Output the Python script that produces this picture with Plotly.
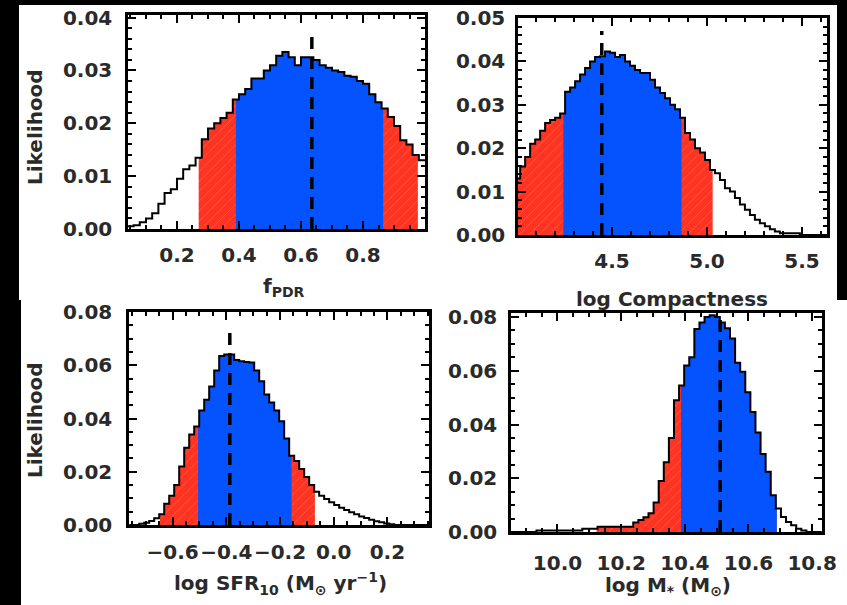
import plotly.graph_objects as go

W, H = 847, 605

# ---------------- data ----------------
# Panel 1: f_PDR
pdr_start, pdr_bin = 0.04, 0.02
pdr_like = [0.0005, 0.0007, 0.0013, 0.002, 0.003, 0.0048, 0.0068, 0.0075, 0.0095, 0.0113,
            0.012, 0.0135, 0.017, 0.019, 0.020, 0.021, 0.022, 0.0245, 0.0255, 0.0265,
            0.0285, 0.0285, 0.030, 0.031, 0.0328, 0.0335, 0.0325, 0.031, 0.0325, 0.0325,
            0.032, 0.031, 0.0305, 0.030, 0.0297, 0.029, 0.0288, 0.028, 0.0275, 0.0255,
            0.024, 0.0228, 0.0212, 0.0195, 0.0168, 0.016, 0.014, 0.013]
pdr_red = [0.27, 0.977]
pdr_blue = [0.39, 0.865]
pdr_median = 0.635
pdr_xticks = [0.2, 0.4, 0.6, 0.8]
pdr_yticks = [0.00, 0.01, 0.02, 0.03, 0.04]

# Panel 2: log Compactness
comp_start, comp_bin = 3.99, 0.0263
comp_like = [0.013, 0.0158, 0.018, 0.021, 0.022, 0.024, 0.0258, 0.0265, 0.027, 0.028,
             0.033, 0.034, 0.0354, 0.037, 0.0385, 0.040, 0.041, 0.0412, 0.0423, 0.042,
             0.041, 0.0415, 0.040, 0.039, 0.038, 0.0373, 0.0373, 0.0358, 0.034, 0.0327,
             0.0315, 0.030, 0.029, 0.027, 0.0235, 0.022, 0.020, 0.019, 0.0173, 0.015,
             0.0142, 0.0127, 0.0108, 0.010, 0.0085, 0.007, 0.0058, 0.0046, 0.0035, 0.0027,
             0.002, 0.0013, 0.0008, 0.0004, 0.0004, 0.0004, 0.0004, 0.0, 0.0, 0.0,
             0.0, 0.0, 0.0]
comp_red = [3.99, 5.03]
comp_blue = [4.244, 4.866]
comp_median = 4.446
comp_xticks = [4.5, 5.0, 5.5]
comp_yticks = [0.00, 0.01, 0.02, 0.03, 0.04, 0.05]

# Panel 3: log SFR10
sfr_start, sfr_bin = -0.7617, 0.01862
sfr_like = [0, 0, 0.0005, 0.0008, 0.0015, 0.0025, 0.004, 0.008, 0.011, 0.015,
            0.022, 0.029, 0.034, 0.037, 0.043, 0.047, 0.052, 0.058, 0.0635, 0.064,
            0.064, 0.062, 0.0615, 0.0612, 0.061, 0.058, 0.054, 0.049, 0.046, 0.043,
            0.039, 0.0325, 0.026, 0.024, 0.021, 0.018, 0.015, 0.0125, 0.011, 0.0098,
            0.0085, 0.0075, 0.0065, 0.0056, 0.0048, 0.004, 0.0032, 0.0026, 0.002, 0.0014,
            0.001, 0.0006, 0.0003, 0, 0, 0, 0, 0, 0, 0, 0]
sfr_red = [-0.647, -0.070]
sfr_blue = [-0.505, -0.157]
sfr_median = -0.387
sfr_xticks = [-0.6, -0.4, -0.2, 0.0, 0.2]
sfr_yticks = [0.00, 0.02, 0.04, 0.06, 0.08]

# Panel 4: log M*
mass_start, mass_bin = 9.854, 0.016
mass_like = [0, 0, 0, 0, 0,
             0.0006, 0.0006, 0.0006, 0.0006, 0.0006, 0.0006, 0.0006, 0.0006, 0.0006,
             0.0012, 0.0012, 0.0012,
             0.002, 0.002, 0.002, 0.002, 0.002, 0.002, 0.002,
             0.0035, 0.0045, 0.0055, 0.007, 0.011, 0.019, 0.026, 0.035, 0.049, 0.0545,
             0.062, 0.065, 0.0755, 0.078, 0.080, 0.0807, 0.080, 0.078, 0.0758, 0.072,
             0.063, 0.0596, 0.052, 0.0447, 0.037, 0.029, 0.0224, 0.0137, 0.0087, 0.0056,
             0.0037, 0.0025, 0.0012, 0.0006, 0, 0, 0]
mass_red = [10.123, 10.689]
mass_blue = [10.388, 10.689]
mass_median = 10.511
mass_xticks = [10.0, 10.2, 10.4, 10.6, 10.8]
mass_yticks = [0.00, 0.02, 0.04, 0.06, 0.08]

# ---------------- helpers ----------------
def edges(start, width, n):
    return [start + width * i for i in range(n + 1)]

def value_at(start, width, vals, x):
    i = int((x - start) // width)
    i = max(0, min(len(vals) - 1, i))
    return vals[i]

def clipped_step(start, width, vals, a, b):
    e = edges(start, width, len(vals))
    xs = [a] + [v for v in e if a + 1e-9 < v < b - 1e-9] + [b]
    ys = [value_at(start, width, vals, 0.5 * (xs[i] + xs[i + 1])) for i in range(len(xs) - 1)]
    ys.append(ys[-1])
    return xs, ys

RED = "#ff3322"
RED_HATCH = "#ff8a70"
BLUE = "#0552ff"
FONT = dict(family="DejaVu Sans", size=20, color="#2a2a2a", weight="bold")

panels = [
    dict(start=pdr_start, width=pdr_bin, vals=pdr_like, red=pdr_red, blue=pdr_blue,
         med=pdr_median, medtop=0.0375, xr=[0.042, 1.0], yr=[0, 0.0405],
         xt=pdr_xticks, yt=pdr_yticks, xfmt=".1f", xminor=0.05, yminor=0.002,
         box=(128, 425, 15, 229), xstand=6, ystand=9),
    dict(start=comp_start, width=comp_bin, vals=comp_like, red=comp_red, blue=comp_blue,
         med=comp_median, medtop=0.047, xr=[4.005, 5.632], yr=[0, 0.05],
         xt=comp_xticks, yt=comp_yticks, xfmt=".1f", xminor=0.1, yminor=0.002,
         box=(518, 827, 18, 235), xstand=6, ystand=6),
    dict(start=sfr_start, width=sfr_bin, vals=sfr_like, red=sfr_red, blue=sfr_blue,
         med=sfr_median, medtop=0.075, xr=[-0.7625, 0.355], yr=[0, 0.08],
         xt=sfr_xticks, yt=sfr_yticks, xfmt=".1f", xminor=0.05, yminor=0.005,
         box=(129, 429, 312, 525), xstand=7, ystand=10),
    dict(start=mass_start, width=mass_bin, vals=mass_like, red=mass_red, blue=mass_blue,
         med=mass_median, medtop=0.0805, xr=[9.854, 10.831], yr=[0, 0.0815],
         xt=mass_xticks, yt=mass_yticks, xfmt=".1f", xminor=0.05, yminor=0.005,
         box=(511, 822, 313, 532), xstand=11, ystand=7),
]

fig = go.Figure()
layout = {}
for k, p in enumerate(panels):
    sfx = "" if k == 0 else str(k + 1)
    xa, ya = "x" + sfx, "y" + sfx
    # red (hatched) region
    rx, ry = clipped_step(p["start"], p["width"], p["vals"], *p["red"])
    fig.add_trace(go.Scatter(x=rx, y=ry, xaxis=xa, yaxis=ya, mode="lines",
                             line=dict(shape="hv", width=0, color=RED), fill="tozeroy",
                             fillcolor=RED,
                             fillpattern=dict(shape="/", bgcolor=RED, fgcolor=RED_HATCH,
                                              size=7, solidity=0.12),
                             hoverinfo="skip", showlegend=False))
    # blue region
    bx, by = clipped_step(p["start"], p["width"], p["vals"], *p["blue"])
    fig.add_trace(go.Scatter(x=bx, y=by, xaxis=xa, yaxis=ya, mode="lines",
                             line=dict(shape="hv", width=0, color=BLUE), fill="tozeroy",
                             fillcolor=BLUE, hoverinfo="skip", showlegend=False))
    # outline
    e = edges(p["start"], p["width"], len(p["vals"]))
    fig.add_trace(go.Scatter(x=e, y=list(p["vals"]) + [p["vals"][-1]], xaxis=xa, yaxis=ya,
                             mode="lines", line=dict(shape="hv", width=2, color="black"),
                             hoverinfo="skip", showlegend=False))
    # median dashed line
    fig.add_trace(go.Scatter(x=[p["med"], p["med"]], y=[0, p["medtop"]], xaxis=xa, yaxis=ya,
                             mode="lines", line=dict(width=3.5, color="black", dash="12px,8px"),
                             hoverinfo="skip", showlegend=False))
    x0, x1, y0, y1 = p["box"]
    common = dict(showline=True, linecolor="black", linewidth=2.5, mirror="allticks",
                  ticks="inside", ticklen=8, tickwidth=2, tickcolor="black",
                  showgrid=False, zeroline=False, tickfont=FONT, automargin=False,
                  tickangle=0)
    layout["xaxis" + sfx] = dict(common, domain=[x0 / W, x1 / W], range=p["xr"],
                                 anchor=ya, tickmode="array", tickvals=p["xt"],
                                 ticktext=[format(v, p["xfmt"]).replace("-", "\u2212") for v in p["xt"]],
                                 ticklabelstandoff=p["xstand"],
                                 minor=dict(ticks="inside", ticklen=4, tickwidth=1.5,
                                            tickcolor="black", dtick=p["xminor"],
                                            tick0=p["xt"][0]))
    layout["yaxis" + sfx] = dict(common, domain=[1 - y1 / H, 1 - y0 / H], range=p["yr"],
                                 anchor=xa, tickmode="array", tickvals=p["yt"],
                                 ticktext=["%.2f" % v for v in p["yt"]],
                                 ticklabelstandoff=p["ystand"],
                                 minor=dict(ticks="inside", ticklen=4, tickwidth=1.5,
                                            tickcolor="black", dtick=p["yminor"], tick0=0))

TITLE_FONT = dict(family="DejaVu Sans", size=20, color="#2a2a2a", weight="bold")
annotations = [
    dict(text="f<sub>PDR</sub>", x=284 / W, y=1 - 287 / H),
    dict(text="log Compactness", x=672 / W, y=1 - 299 / H),
    dict(text="log SFR<sub>10</sub> (M<sub>\u2299</sub> yr<sup>\u22121</sup>)", x=280 / W, y=1 - 583 / H),
    dict(text="log M<sub>*</sub> (M<sub>\u2299</sub>)", x=668 / W, y=1 - 586 / H),
    dict(text="Likelihood", x=35 / W, y=1 - 127 / H, textangle=-90),
    dict(text="Likelihood", x=35 / W, y=1 - 420 / H, textangle=-90),
]
for a in annotations:
    a.update(xref="paper", yref="paper", xanchor="center", yanchor="middle",
             showarrow=False, font=TITLE_FONT)

shapes = [
    dict(type="rect", xref="paper", yref="paper", x0=19 / W, x1=837 / W,
         y0=1 - 300 / H, y1=1 - 5 / H, fillcolor="white", line=dict(width=0), layer="below"),
    dict(type="rect", xref="paper", yref="paper", x0=21 / W, x1=1.0,
         y0=0, y1=1 - 300 / H, fillcolor="white", line=dict(width=0), layer="below"),
]

fig.update_layout(width=W, height=H,
                  margin=dict(l=0, r=0, t=0, b=0, pad=0, autoexpand=False),
                  paper_bgcolor="black", plot_bgcolor="white",
                  showlegend=False, annotations=annotations, shapes=shapes, **layout)
fig.write_html("out.html")
